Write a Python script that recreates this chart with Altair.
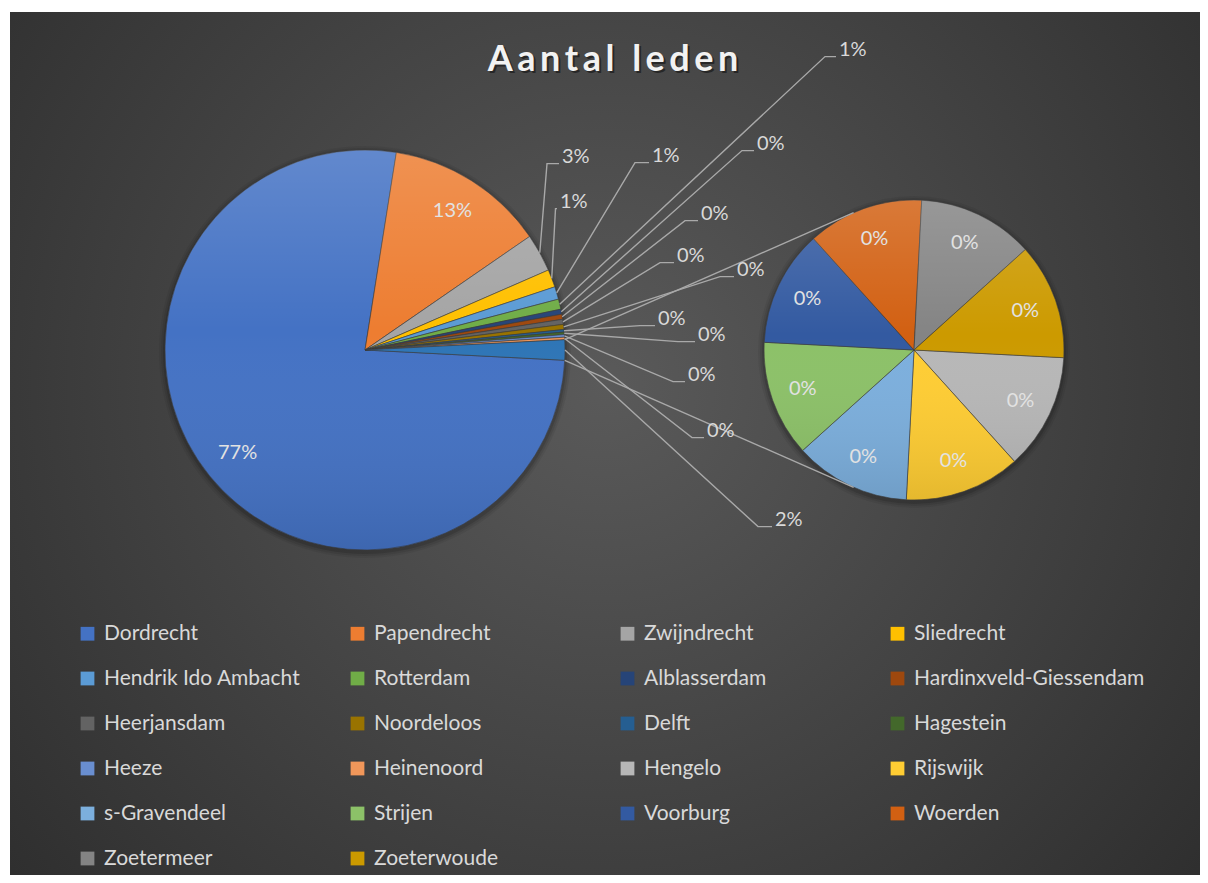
import math
import altair as alt
import pandas as pd

# ---------------- data ----------------
main_names = ["Dordrecht", "Papendrecht", "Zwijndrecht", "Sliedrecht",
              "Hendrik Ido Ambacht", "Rotterdam", "Alblasserdam",
              "Hardinxveld-Giessendam", "Heerjansdam", "Noordeloos", "Delft",
              "Hagestein", "Heeze", "Heinenoord"]
main_values = [375, 63, 15, 7, 5, 4, 2, 2, 2, 2, 1, 1, 1, 1]
second_names = ["Hengelo", "Rijswijk", "s-Gravendeel", "Strijen",
                "Voorburg", "Woerden", "Zoetermeer", "Zoeterwoude"]
second_values = [1, 1, 1, 1, 1, 1, 1, 1]
other_name = "Overig"
title_text = "Aantal leden"

main_colors = ["#4472C4", "#ED7D31", "#A5A5A5", "#FFC000", "#5B9BD5", "#70AD47",
               "#264478", "#9E480E", "#636363", "#997300", "#255E91", "#43682B",
               "#698ED0", "#F1975A"]
second_colors = ["#B7B7B7", "#FFCD33", "#7CAFDD", "#8CC168", "#335AA1",
                 "#D26012", "#848484", "#CC9A00"]
other_color = "#2E75B6"

# ---------------- layout ----------------
OX, OY = 10, 12          # chart origin on the page
W, H = 1190, 863
C1 = (365 - OX, 350 - OY)
R1 = 200
C2 = (914 - OX, 350 - OY)
R2 = 150
# Excel's placement of the outside labels: (text left x, text centre y, elbow x), page px
label_pos = [(562, 157, 547), (560, 202, 555.5), (652, 156, 635), (839, 50, 825),
             (757, 144, 742), (701, 214, 685), (677, 256, 660), (737, 270, 720),
             (658, 319, 640), (698, 335, 678), (688, 375, 673), (707, 431, 692),
             (775, 520, 758)]
FONT = "Lato"
TXT = "#d9d9d9"
LINE = "#a9a9a9"

total = sum(main_values) + sum(second_values)
other_val = sum(second_values)
start = math.pi / 2 + other_val / total * math.pi
TWO_PI = 2 * math.pi


def pct(v):
    return f"{round(v / total * 100)}%"


m_names = main_names + [other_name]
m_vals = main_values + [other_val]
main_df = pd.DataFrame({
    "name": m_names, "value": m_vals, "idx": list(range(len(m_names))),
    "inner": [pct(v) if i < 2 else "" for i, v in enumerate(m_vals)],
})
sec_df = pd.DataFrame({
    "name": second_names, "value": second_values,
    "idx": list(range(len(second_names))),
    "inner": [pct(v) for v in second_values],
})

# leader lines + outside labels
line_rows, text_rows = [], []
cum = 0
for i, v in enumerate(m_vals):
    a0 = start + cum / total * TWO_PI
    cum += v
    a1 = start + cum / total * TWO_PI
    if i >= 2:
        tx, ty, ex = label_pos[i - 2]
        mid = (a0 + a1) / 2
        sx = C1[0] + R1 * math.sin(mid)
        sy = C1[1] - R1 * math.cos(mid)
        ly = ty + 6.6 - OY
        pts = [(sx, sy), (ex - OX, ly), (tx - 3 - OX, ly)]
        for k, (x, y) in enumerate(pts):
            line_rows.append({"id": f"l{i}", "seq": k, "x": x, "y": y})
        text_rows.append({"x": tx - OX, "y": ty - OY, "label": pct(v)})


def tangent(P, C, r, sign):
    dx, dy = P[0] - C[0], P[1] - C[1]
    d = math.hypot(dx, dy)
    ang = math.atan2(dy, dx) + sign * math.acos(r / d)
    return (C[0] + r * math.cos(ang), C[1] + r * math.sin(ang))


# connectors from the "other" slice edges to the second pie
a_top = start + TWO_PI - other_val / total * TWO_PI
a_bot = start
P_top = (C1[0] + R1 * math.sin(a_top), C1[1] - R1 * math.cos(a_top))
P_bot = (C1[0] + R1 * math.sin(a_bot), C1[1] - R1 * math.cos(a_bot))
for cid, P, s in [("ct", P_top, 1), ("cb", P_bot, -1)]:
    T = tangent(P, C2, R2, s)
    line_rows.append({"id": cid, "seq": 0, "x": P[0], "y": P[1]})
    line_rows.append({"id": cid, "seq": 1, "x": T[0], "y": T[1]})

lines_df = pd.DataFrame(line_rows)
texts_df = pd.DataFrame(text_rows)
one = pd.DataFrame({"k": [0]})

color_scale = alt.Scale(domain=main_names + second_names + [other_name],
                        range=main_colors + second_colors + [other_color])
legend = alt.Legend(
    title=None, orient="none", legendX=67, legendY=611, direction="horizontal",
    columns=4, symbolType="square", symbolSize=190, symbolStrokeWidth=0,
    symbolOpacity=1, labelFontSize=21, labelFont=FONT, labelColor=TXT,
    labelLimit=400, labelOffset=6, gridAlign="all", columnPadding=12,
    rowPadding=23, padding=0, values=main_names + second_names)

# ---------------- layers ----------------
bg = alt.Chart(one).mark_rect(
    fill=alt.Gradient(gradient="radial",
                      stops=[alt.GradientStop(color="#5a5a5a", offset=0),
                             alt.GradientStop(color="#262626", offset=1)],
                      x1=0.5, y1=0.45, r1=0, x2=0.5, y2=0.45, r2=0.78)
).encode(x=alt.value(0), x2=alt.value(W), y=alt.value(0), y2=alt.value(H))


def shadow(C, R):
    return [
        alt.Chart(one).mark_arc(theta=0, theta2=TWO_PI, outerRadius=R + d,
                                fill="#000000", opacity=o)
        .encode(x=alt.value(C[0]), y=alt.value(C[1] + 2))
        for d, o in [(6, 0.06), (4, 0.08), (2, 0.12)]
    ]


def pie(df, C, R, rin):
    theta = alt.Theta("value:Q", stack=True,
                      scale=alt.Scale(range=[start, start + TWO_PI]))
    arcs = alt.Chart(df).mark_arc(outerRadius=R, stroke="#3c3c3c",
                                  strokeWidth=0.6).encode(
        theta=theta, order=alt.Order("idx:Q"),
        color=alt.Color("name:N", scale=color_scale, legend=legend),
        x=alt.value(C[0]), y=alt.value(C[1]))
    gloss = alt.Chart(one).mark_arc(
        theta=0, theta2=TWO_PI, outerRadius=R,
        fill=alt.Gradient(gradient="linear",
                          stops=[alt.GradientStop(color="rgba(255,255,255,0.16)", offset=0),
                                 alt.GradientStop(color="rgba(255,255,255,0)", offset=0.45),
                                 alt.GradientStop(color="rgba(0,0,0,0.10)", offset=1)],
                          x1=0, y1=0, x2=0, y2=1)
    ).encode(x=alt.value(C[0]), y=alt.value(C[1]))
    labels = alt.Chart(df).mark_text(radius=rin, fontSize=20, font=FONT,
                                     color="#e2e2e2").encode(
        theta=theta, order=alt.Order("idx:Q"), text="inner:N",
        x=alt.value(C[0]), y=alt.value(C[1]))
    return [arcs, gloss, labels]


leaders = alt.Chart(lines_df).mark_line(color=LINE, strokeWidth=1.4).encode(
    x=alt.X("x:Q", scale=None, axis=None),
    y=alt.Y("y:Q", scale=None, axis=None),
    detail="id:N", order="seq:Q")
out_labels = alt.Chart(texts_df).mark_text(
    align="left", baseline="middle", fontSize=20, font=FONT, color=TXT).encode(
    x=alt.X("x:Q", scale=None, axis=None),
    y=alt.Y("y:Q", scale=None, axis=None), text="label:N")

spaced = "\u200a\u200a".join(title_text)
title_shadow = alt.Chart(one).mark_text(
    fontSize=36, font=FONT, fontWeight="bold", color="#000000", opacity=0.45,
    baseline="alphabetic").encode(x=alt.value(605), y=alt.value(61),
                                  text=alt.value(spaced))
title = alt.Chart(one).mark_text(
    fontSize=36, font=FONT, fontWeight="bold", color="#f2f2f2",
    baseline="alphabetic").encode(x=alt.value(603), y=alt.value(59),
                                  text=alt.value(spaced))

layers = ([bg] + shadow(C1, R1) + shadow(C2, R2) + pie(main_df, C1, R1, 164)
          + pie(sec_df, C2, R2, 118) + [leaders, out_labels, title_shadow, title])

chart = alt.layer(*layers).properties(
    width=W, height=H, background="white",
    padding={"left": 2, "top": 4, "right": 0, "bottom": 0},
    autosize=alt.AutoSizeParams(type="none"),
).resolve_scale(theta="independent").configure_view(stroke=None)

chart.save("out.html", embed_options={"renderer": "svg", "actions": False})
